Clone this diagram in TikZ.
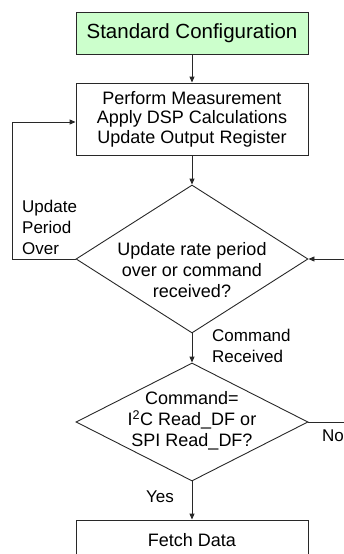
\documentclass[tikz,border=0pt]{standalone}
\usepackage{fontspec}
\setmainfont{Liberation Sans}
\usetikzlibrary{shapes.geometric,arrows.meta}
\definecolor{boxgreen}{RGB}{204,255,204}
\definecolor{linegray}{RGB}{40,40,40}
\tikzset{
  procbox/.style={draw=linegray, line width=0.9pt, minimum width=232pt, inner sep=0pt, align=center, font=\fontsize{18}{19.5}\selectfont},
  decision/.style={diamond, draw=linegray, line width=0.9pt, inner sep=0pt},
  dtext/.style={align=center, font=\fontsize{18}{21}\selectfont, inner sep=0pt},
  lbl/.style={align=left, font=\fontsize{17}{21}\selectfont, inner sep=0pt},
  arr/.style={draw=linegray, line width=0.9pt, -{Triangle[length=6pt,width=5pt]}},
  ln/.style={draw=linegray, line width=0.9pt}
}
\begin{document}
\begin{tikzpicture}[x=1pt,y=-1pt]
\useasboundingbox (0,0) rectangle (344,554);
\node[procbox, fill=boxgreen, minimum height=42pt, font=\fontsize{20.5}{22}\selectfont] (start) at (192,33) {Standard Configuration};
\node[procbox, minimum height=72pt] (meas) at (192,119) {Perform Measurement\\Apply DSP Calculations\\Update Output Register};
\node[decision, minimum width=232pt, minimum height=148pt] (d1) at (192,259) {};
\node[dtext] (d1t) at (192,270) {Update rate period\\over or command\\received?};
\node[decision, minimum width=232pt, minimum height=118pt] (d2) at (192,422) {};
\node[dtext] (d2t) at (192,421) {Command=\\I\textsuperscript{2}C Read\_DF or\\SPI Read\_DF?};
\node[procbox, minimum height=40pt] (fetch) at (192,540) {Fetch Data};

\coordinate (lp) at (12,122);
\coordinate (rin) at (344,259);
\coordinate (nout) at (344,422);

\draw[arr] (start) -- (meas);
\draw[arr] (meas) -- (d1.north);
\draw[arr] (d1.west) -| (lp) -- (lp -| meas.west);
\draw[arr] (rin) -- (d1.east);
\draw[arr] (d1.south) -- (d2.north);
\draw[ln] (d2.east) -- (nout);
\draw[arr] (d2.south) -- (fetch.north);

\node[lbl, anchor=west] (upo) at (22,227) {Update\\Period\\Over};
\node[lbl, anchor=west] (cr) at (212,345.5) {Command\\Received};
\node[lbl, anchor=west] (no) at (322,436) {No};
\node[lbl] (yes) at (160,497) {Yes};
\end{tikzpicture}
\end{document}
